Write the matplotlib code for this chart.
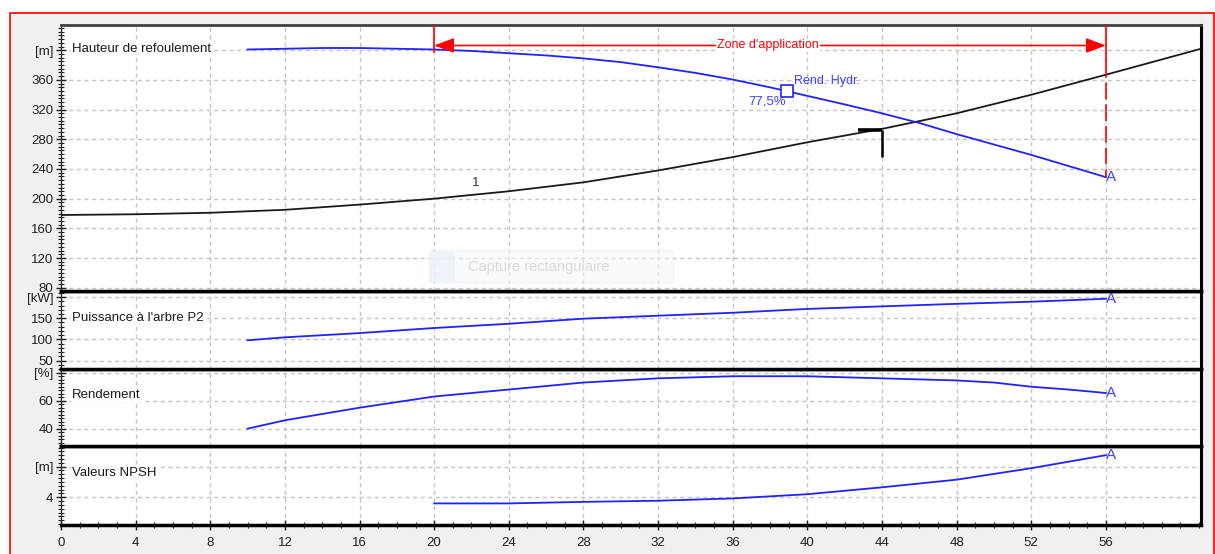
import matplotlib
matplotlib.use('Agg')
import matplotlib.pyplot as plt
from matplotlib.ticker import MultipleLocator, FixedLocator, FuncFormatter
from matplotlib.patches import Rectangle

plt.rcParams['font.family'] = ['Liberation Sans', 'DejaVu Sans']

# ---------------- data ----------------
q_head = [10, 12, 14, 16, 18, 20, 22, 24, 26, 28, 30, 32, 34, 36, 38, 40, 42, 44, 46, 48, 50, 52, 54, 56]
h_head = [401, 402, 403, 403, 402, 401, 399, 396, 393, 389, 384, 377, 369.5, 360.5, 350, 338.5, 327, 315, 302, 287, 273, 259, 244, 229]

q_sys = [0, 4, 8, 12, 16, 20, 24, 28, 32, 36, 40, 44, 48, 52, 56, 61.1]
h_sys = [178, 179, 181, 185, 192, 200, 210, 222, 238, 256, 276, 294, 315, 340, 367, 402]

q_pow = [10, 12, 16, 20, 24, 28, 32, 36, 40, 44, 48, 52, 56]
p_pow = [98, 105, 115, 127, 137, 149, 156, 163, 172, 178, 184, 189, 196]

q_eff = [10, 12, 16, 20, 24, 28, 32, 36, 40, 44, 48, 50, 52, 54, 56]
e_eff = [40, 46, 55, 63, 68, 73, 76, 77.5, 77.5, 76, 74.5, 73, 70, 68, 65.5]

q_npsh = [20, 24, 28, 32, 36, 40, 44, 48, 52, 56]
v_npsh = [3.2, 3.2, 3.4, 3.55, 3.85, 4.4, 5.3, 6.3, 7.8, 9.5]

x_ticks = list(range(0, 57, 4))
panel_names = ["Hauteur de refoulement", "Puissance à l'arbre P2", "Rendement", "Valeurs NPSH"]
panel_units = ["[m]", "[kW]", "[%]", "[m]"]
panel_yticks = [[80, 120, 160, 200, 240, 280, 320, 360, 400], [50, 100, 150, 200], [40, 60, 80], [4, 8]]
panel_ylims = [(76, 434), (31, 215), (27.6, 82.9), (0.34, 10.7)]
panel_minor = [5, 10, 2.5, 0.5]
panel_label_y = [402, 150, 64.3, 7.2]

zone_q = (20, 56)
zone_level = 406.4
bep_q, bep_h = 38.9, 345.5
dp_q, dp_h, dp_low = 44, 292.5, 256

# ---------------- figure ----------------
W, H = 1215, 554
fig = plt.figure(figsize=(W / 100, H / 100), dpi=100, facecolor='white')
bg = Rectangle((9.5 / W, -0.01), (1213.5 - 9.5) / W, (H - 12.5) / H + 0.01,
               transform=fig.transFigure, facecolor='#f0f0f0',
               edgecolor='#ff0000', linewidth=1.2, zorder=-10)
fig.patches.append(bg)

blue = '#2222ff'
tblue = '#4040ff'
left, right = 61 / W, 1201 / W
bounds_px = [(25, 290.7), (290.7, 368.7), (368.7, 446), (446, 525.3)]

axes = []
for i, (t, b) in enumerate(bounds_px):
    ax = fig.add_axes([left, 1 - b / H, right - left, (b - t) / H])
    ax.set_zorder(5 - i)
    ax.set_facecolor('white')
    ax.set_xlim(0, 61.1)
    ax.set_ylim(*panel_ylims[i])
    ax.xaxis.set_major_locator(FixedLocator(x_ticks))
    ax.xaxis.set_minor_locator(FixedLocator(list(range(0, 62))))
    ax.yaxis.set_major_locator(FixedLocator(panel_yticks[i]))
    ax.yaxis.set_minor_locator(MultipleLocator(panel_minor[i]))
    top_tick = panel_yticks[i][-1]
    unit = panel_units[i]
    ax.yaxis.set_major_formatter(FuncFormatter(
        lambda v, p, tt=top_tick, u=unit: u if abs(v - tt) < 1e-9 else f"{v:g}"))
    ax.set_axisbelow(True)
    ax.grid(True, which='major', color='#c4c4c4', linestyle=(0, (3, 2.5)), linewidth=1.0)
    ax.tick_params(axis='y', which='major', direction='inout', length=7, width=1,
                   labelsize=9.5, pad=2, colors='#202020')
    ax.tick_params(axis='y', which='minor', direction='inout', length=4, width=0.8, colors='#202020')
    if i < 3:
        ax.tick_params(axis='x', which='both', bottom=False, labelbottom=False)
    else:
        ax.tick_params(axis='x', which='major', direction='inout', length=7, width=1,
                       labelsize=9.5, pad=5, colors='#202020')
        ax.tick_params(axis='x', which='minor', direction='inout', length=4, width=0.8, colors='#202020')
    ax.spines['left'].set_color('#303030')
    ax.spines['left'].set_linewidth(1.0)
    ax.spines['right'].set_color('black')
    ax.spines['right'].set_linewidth(2.2)
    ax.spines['bottom'].set_color('black')
    ax.spines['bottom'].set_linewidth(2.5)
    if i == 0:
        ax.spines['top'].set_color('#404040')
        ax.spines['top'].set_linewidth(2)
    else:
        ax.spines['top'].set_color('black')
        ax.spines['top'].set_linewidth(2.5)
    ax.text(0.59, panel_label_y[i], panel_names[i], fontsize=9.5, color='#1a1a1a',
            ha='left', va='center',
            bbox=dict(facecolor='white', edgecolor='none', pad=1.0), zorder=5)
    axes.append(ax)

ax1, ax2, ax3, ax4 = axes

# ---- panel 1 ----
ax1.add_patch(Rectangle((19.74, 87.4), 13.04, 42.9, facecolor='#f4f7fb', edgecolor='#e8eef6',
                        alpha=0.6, linewidth=0.8, zorder=1))
ax1.add_patch(Rectangle((19.8, 89), 1.3, 39.5, facecolor='#eaf0f8', edgecolor='none', alpha=0.7, zorder=1))
ax1.text(21.8, 107.7, 'Capture rectangulaire', fontsize=10.5, color='#dadada', ha='left', va='center', zorder=1)

ax1.plot(q_sys, h_sys, color='#1a1a1a', lw=1.3, zorder=3)
ax1.plot(q_head, h_head, color=blue, lw=1.3, zorder=3)
ax1.plot([dp_q - 1.3, dp_q], [dp_h, dp_h], color='black', lw=2.6, solid_capstyle='butt', zorder=4)
ax1.plot([dp_q, dp_q], [dp_h, dp_low], color='black', lw=1.8, solid_capstyle='butt', zorder=4)
ax1.text(22.2, 221, '1', fontsize=9.5, color='#333333', ha='center', va='center', zorder=4)

ax1.plot([zone_q[0], zone_q[0]], [434, 398], color='red', lw=1.2, zorder=4)
ax1.plot([zone_q[1], zone_q[1]], [434, 385], color='red', lw=1.2, zorder=4)
ax1.plot([zone_q[1], zone_q[1]], [385, h_head[-1]], color='red', lw=1.2,
         linestyle=(0, (10, 3)), zorder=4)
ax1.annotate('', xy=(zone_q[0], zone_level), xytext=(zone_q[1], zone_level),
             arrowprops=dict(arrowstyle='<|-|>,head_length=0.8,head_width=0.3', color='red',
                             lw=1.2, shrinkA=0, shrinkB=0, mutation_scale=15), zorder=4)
ax1.text(37.9, zone_level, "Zone d'application", fontsize=9, color='red', ha='center', va='center',
         bbox=dict(facecolor='white', edgecolor='none', pad=0.6), zorder=5)

ax1.plot([bep_q], [bep_h], marker='s', markersize=9, mfc='white', mec=blue, mew=1.2, zorder=5)
ax1.text(39.3, 358.6, 'Rend. Hydr.', fontsize=9, color=tblue, ha='left', va='center', zorder=5)
ax1.text(38.85, 330.7, '77,5%', fontsize=9.5, color=tblue, ha='right', va='center', zorder=5)
ax1.text(56, h_head[-1], 'A', fontsize=11, color=tblue, ha='left', va='center', zorder=5)

# ---- panel 2 ----
ax2.plot(q_pow, p_pow, color=blue, lw=1.3, zorder=3)
ax2.text(56, p_pow[-1], 'A', fontsize=11, color=tblue, ha='left', va='center', zorder=5)

# ---- panel 3 ----
ax3.plot(q_eff, e_eff, color=blue, lw=1.3, zorder=3)
ax3.text(56, e_eff[-1], 'A', fontsize=11, color=tblue, ha='left', va='center', zorder=5)

# ---- panel 4 ----
ax4.plot(q_npsh, v_npsh, color=blue, lw=1.3, zorder=3)
ax4.text(56, v_npsh[-1], 'A', fontsize=11, color=tblue, ha='left', va='center', zorder=5)

fig.savefig('out.png', dpi=100, facecolor=fig.get_facecolor())
